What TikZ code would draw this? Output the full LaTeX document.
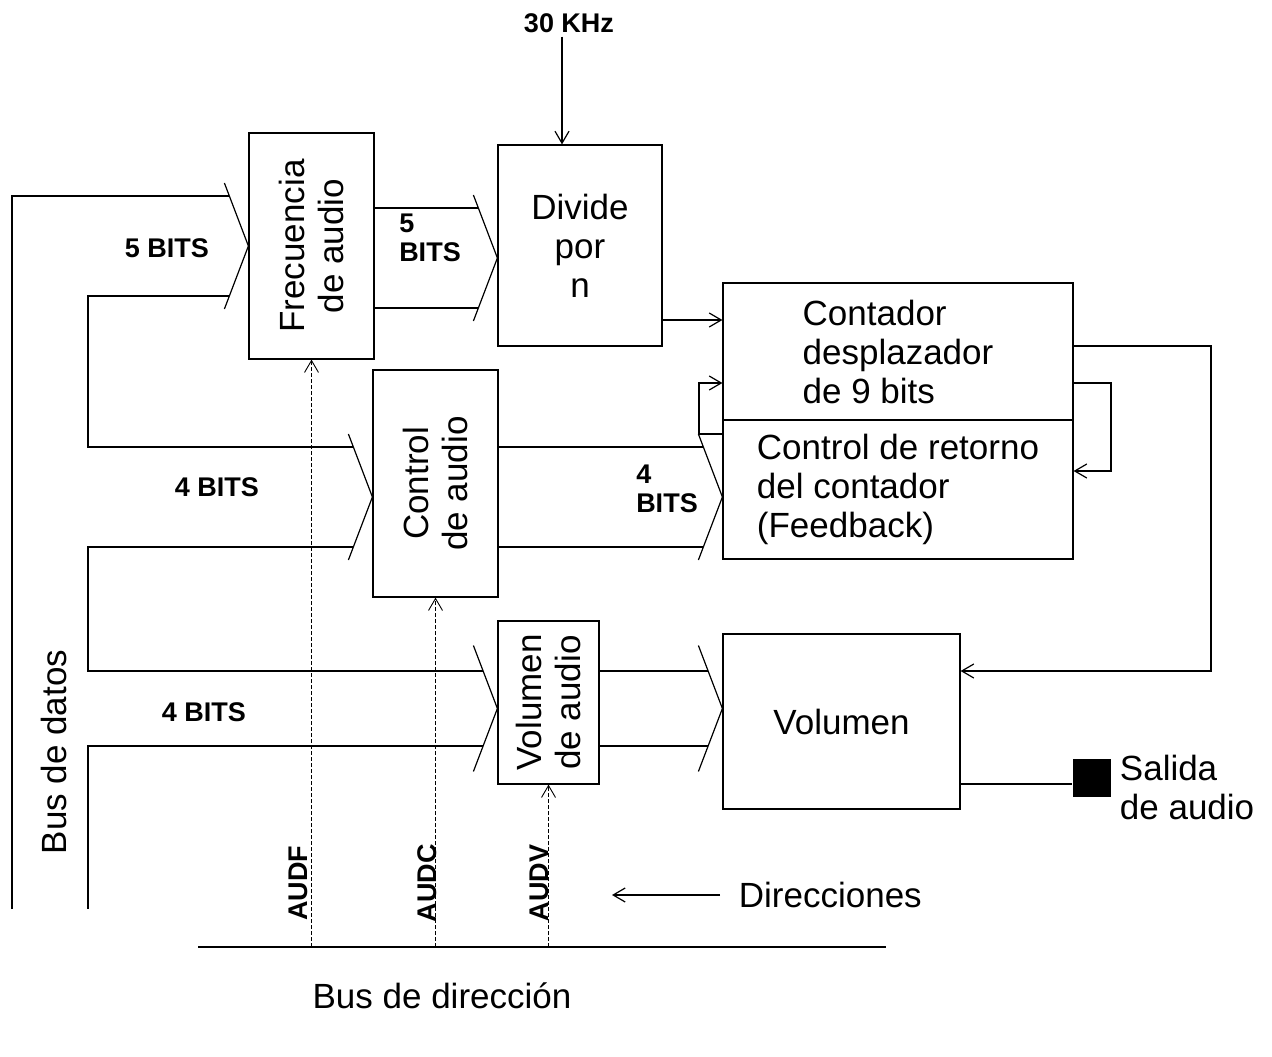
\documentclass[tikz,border=0pt]{standalone}
\usepackage{fontspec}
\setmainfont{Liberation Sans}
\usetikzlibrary{arrows.meta,calc}
\newcommand\boxfont{\fontsize{35}{39}\selectfont}
\newcommand\bitsfont{\fontsize{27}{29}\selectfont\bfseries}
\newcommand\chev[1]{\draw (#1) ++(-24,-63) -- (#1) -- ++(-24,63);}
\begin{document}
\begin{tikzpicture}[x=1pt,y=-1pt,line width=1.2pt,
  blk/.style={draw,inner sep=0pt,font=\boxfont},
  barb/.style={-{Straight Barb[length=12pt,width=14pt]}},
  addr/.style={line width=0.9pt,dash pattern=on 4pt off 2pt}]
  \useasboundingbox (0,0) rectangle (1272,1057);
  % blocks
  \node[blk,minimum width=125pt,minimum height=226pt] (fa) at (311.5,246) {};
  \node[blk,minimum width=164pt,minimum height=201pt,align=center] (dp) at (580,245.5) {Divide\\por\\n};
  \node[blk,minimum width=350pt,minimum height=137pt,align=left] (cnt) at (898,351.5) {Contador\\desplazador\\de 9 bits};
  \node[blk,minimum width=350pt,minimum height=139pt,align=left] (ret) at (898,489.5) {Control de retorno\\del contador\\(Feedback)};
  \node[blk,minimum width=125pt,minimum height=227pt] (ca) at (435.5,483.5) {};
  \node[blk,minimum width=101pt,minimum height=163pt] (va) at (548.5,702.5) {};
  \node[blk,minimum width=237pt,minimum height=175pt] (vo) at (841.5,721.5) {Volumen};
  \node[fill,minimum size=38pt,inner sep=0pt] (out) at (1092,778) {};
  \node[font=\boxfont,rotate=90,align=center] (fatxt) at (fa) {Frecuencia\\de audio};
  \node[font=\boxfont,rotate=90,align=center] (catxt) at (ca) {Control\\de audio};
  \node[font=\boxfont,rotate=90,align=center] (vatxt) at (va) {Volumen\\de audio};
  % bus entries
  \coordinate (tfa) at (fa.west);
  \coordinate (tdp) at (dp.west |- 0,258);
  \coordinate (tca) at (ca.west |- 0,497);
  \coordinate (tret) at (ret.west |- 0,497);
  \coordinate (tva) at (va.west |- 0,708.5);
  \coordinate (tvo) at (vo.west |- 0,708.5);
  \chev{tfa} \chev{tdp} \chev{tca} \chev{tret} \chev{tva} \chev{tvo}
  % data bus
  \draw (12,909) |- ($(tfa)+(-19,-50)$);
  \draw ($(tfa)+(-19,50)$) -| (88,447) -- ($(tca)+(-19,-50)$);
  \draw ($(tca)+(-19,50)$) -| (88,671) -- ($(tva)+(-14.5,-37.5)$);
  \draw ($(tva)+(-14.5,37.5)$) -| (88,909);
  \draw (fa.east |- 0,208) -- ($(tdp)+(-19,-50)$);
  \draw (fa.east |- 0,308) -- ($(tdp)+(-19,50)$);
  \draw (ca.east |- 0,447) -- ($(tret)+(-19,-50)$);
  \draw (ca.east |- 0,547) -- ($(tret)+(-19,50)$);
  \draw (va.east |- 0,671) -- ($(tvo)+(-14.5,-37.5)$);
  \draw (va.east |- 0,746) -- ($(tvo)+(-14.5,37.5)$);
  \node[font=\bitsfont] (b5a) at (167,248) {5 BITS};
  \node[font=\bitsfont,align=left] (b5b) at (430,238) {5\\BITS};
  \node[font=\bitsfont] (b4a) at (217,487) {4 BITS};
  \node[font=\bitsfont,align=left] (b4b) at (667,489) {4\\BITS};
  \node[font=\bitsfont] (b4c) at (204,712) {4 BITS};
  \node[font=\boxfont,rotate=90] (datos) at (54,752) {Bus de datos};
  % clock and counter loops
  \node[font=\bitsfont] (khz) at (569,23) {30 KHz};
  \draw[barb] (khz.south -| 562,0) -- (dp.north -| 562,0);
  \draw[barb] (dp.east |- 0,320) -- (cnt.west |- 0,320);
  \draw[barb] (ret.west |- 0,434) -| (699,383) -- (cnt.west |- 0,383);
  \draw[barb] (cnt.east |- 0,383) -| (1111,471) -- (ret.east |- 0,471);
  \draw[barb] (cnt.east |- 0,346) -| (1211,671) -- (vo.east |- 0,671);
  \draw (vo.east |- 0,784) -- (out.west |- 0,784);
  \node[font=\boxfont,align=left,anchor=west] (sal) at (1116,787) {Salida\\de audio};
  % address bus
  \coordinate (abl) at (198,947);
  \coordinate (abr) at (886,947);
  \draw (abl) -- (abr);
  \draw[addr,barb] (fa.south |- abl) -- (fa.south);
  \draw[addr,barb] (ca.south |- abl) -- (ca.south);
  \draw[addr,barb] (va.south |- abl) -- (va.south);
  \node[font=\bitsfont,rotate=90] (audf) at (298,883) {AUDF};
  \node[font=\bitsfont,rotate=90] (audc) at (427,883) {AUDC};
  \node[font=\bitsfont,rotate=90] (audv) at (539,883) {AUDV};
  \node[font=\boxfont,anchor=west] (dir) at (735,895) {Direcciones};
  \draw[barb] ([xshift=-15pt]dir.west) -- ++(-108,0);
  \node[font=\boxfont] (dirbus) at (442,996) {Bus de dirección};
\end{tikzpicture}
\end{document}
